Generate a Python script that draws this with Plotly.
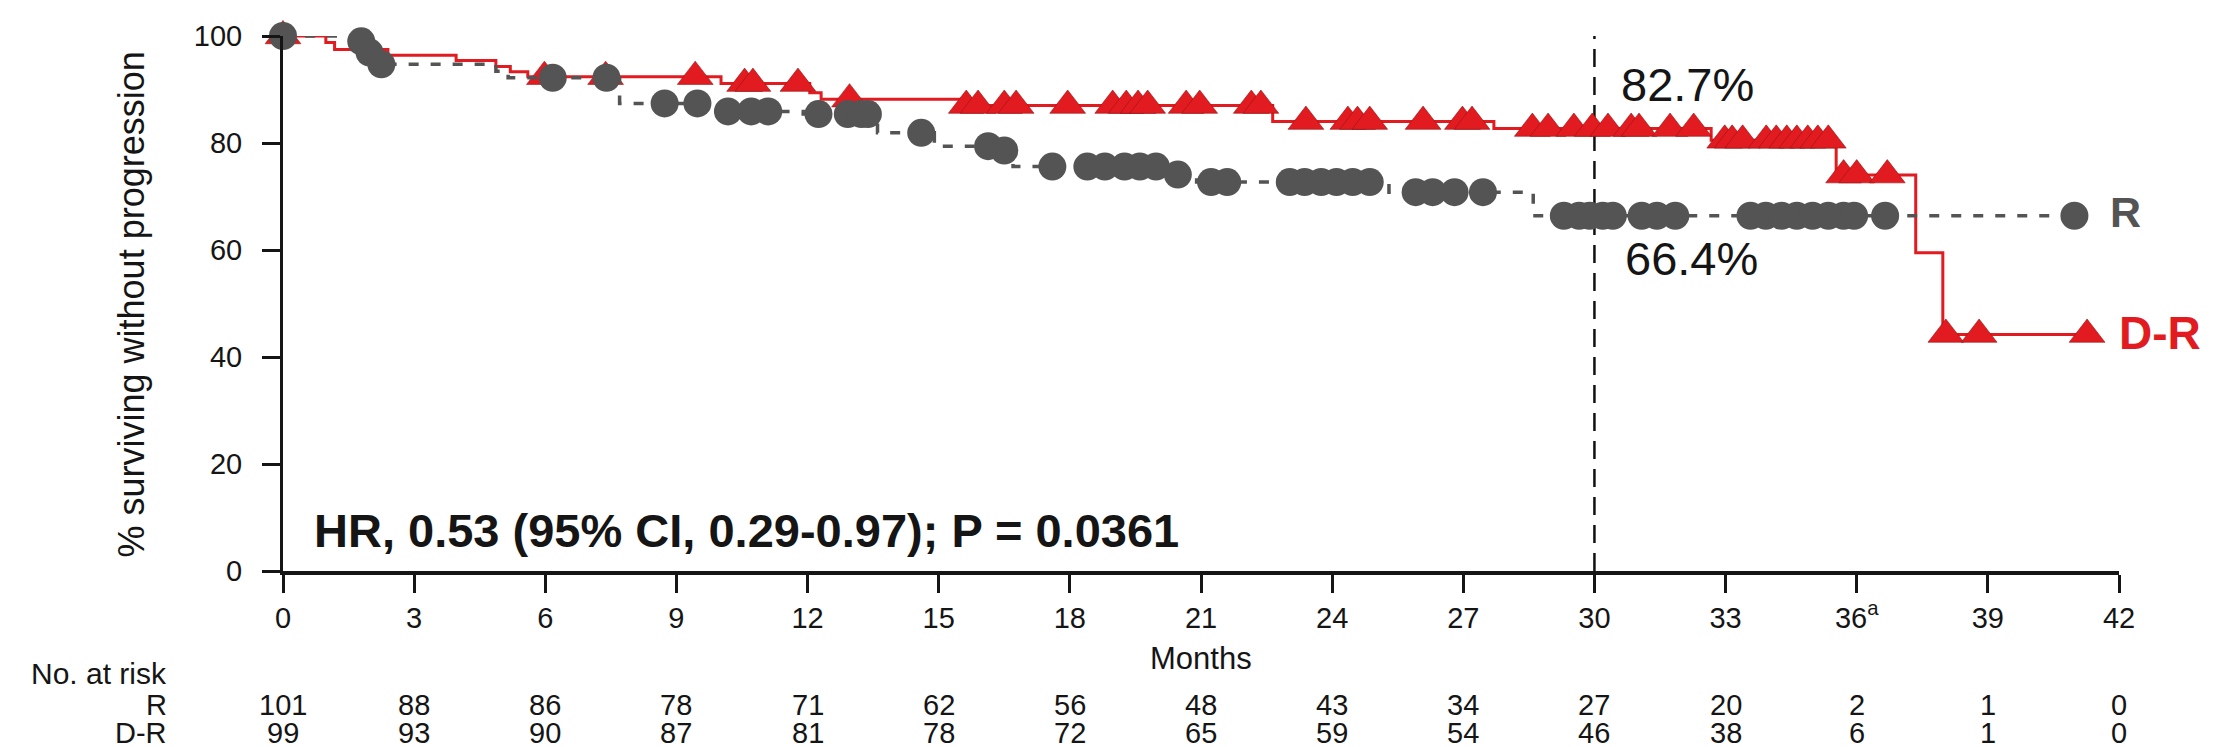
import plotly.graph_objects as go

# ---------------- data ----------------
months_ticks = [0, 3, 6, 9, 12, 15, 18, 21, 24, 27, 30, 33, 36, 39, 42]
month_tick_text = ["0", "3", "6", "9", "12", "15", "18", "21", "24", "27", "30", "33",
                   "36<sup>a</sup>", "39", "42"]
y_ticks = [0, 20, 40, 60, 80, 100]

# R arm (gray) Kaplan-Meier steps
r_step_t = [0, 1.7, 1.95, 2.2, 4.87, 5.15, 7.7, 9.9, 11.9, 13.6, 14.9, 16.3, 16.7, 20.3,
            20.9, 25.3, 28.6, 41.0]
r_step_s = [100, 99.0, 96.9, 94.7, 93.4, 92.2, 87.4, 85.9, 85.4, 81.9, 79.4, 78.6, 75.6,
            74.1, 72.7, 70.8, 66.4, 66.4]
r_cens_t = [0, 1.79, 1.98, 2.25, 6.17, 7.4, 8.73, 9.48, 10.18, 10.71, 11.1, 12.25, 12.92,
            13.23, 13.38, 14.6, 16.13, 16.5, 17.6, 18.4, 18.8, 19.25, 19.6, 19.97,
            20.47, 21.23, 21.6, 23.03, 23.37, 23.75, 24.1, 24.47, 24.86, 25.91, 26.3,
            26.8, 27.45, 29.3, 29.65, 29.89, 30.19, 30.42, 31.08, 31.43, 31.85, 33.57,
            33.92, 34.28, 34.63, 34.99, 35.35, 35.7, 35.94, 36.65, 40.98]

# D-R arm (red) Kaplan-Meier steps
dr_step_t = [0, 0.98, 1.18, 2.4, 3.96, 4.87, 5.2, 5.6, 10.02, 12.05, 12.31, 15.5, 22.64,
             27.7, 32.67, 35.53, 37.35, 37.97, 41.27]
dr_step_s = [100, 98.8, 97.5, 96.4, 95.4, 94.3, 93.3, 92.4, 91.1, 89.4, 88.2, 87.0, 84.0,
             82.7, 80.5, 74.0, 59.5, 44.2, 44.2]
dr_cens_t = [0, 5.98, 7.38, 9.43, 10.56, 10.75, 11.78, 12.96, 15.63, 15.9, 16.5, 16.77,
             17.95, 18.98, 19.29, 19.56, 19.78, 20.66, 20.97, 22.15, 22.37, 23.4, 24.36,
             24.58, 24.86, 26.08, 26.98, 27.2, 28.58, 28.94, 29.53, 29.95, 30.31, 30.84,
             31.02, 31.73, 32.27, 32.98, 33.15, 33.39, 33.93, 34.16, 34.4, 34.63, 34.88,
             35.11, 35.35, 35.7, 36.0, 36.7, 38.04, 38.8, 41.27]

at_risk_R = [101, 88, 86, 78, 71, 62, 56, 48, 43, 34, 27, 20, 2, 1, 0]
at_risk_DR = [99, 93, 90, 87, 81, 78, 72, 65, 59, 54, 46, 38, 6, 1, 0]

landmark_month = 30
landmark_DR = "82.7%"
landmark_R = "66.4%"
hr_text = "HR, 0.53 (95% CI, 0.29-0.97); P = 0.0361"


def km_value(step_t, step_s, t):
    v = step_s[0]
    for tt, ss in zip(step_t, step_s):
        if tt <= t:
            v = ss
    return v


r_cens_s = [km_value(r_step_t, r_step_s, t) for t in r_cens_t]
dr_cens_s = [km_value(dr_step_t, dr_step_s, t) for t in dr_cens_t]

# ---------------- styling ----------------
RED = "rgb(226,27,32)"
GRAY = "rgb(84,84,84)"
INK = "#151515"
FONT = "Liberation Sans, Arial, sans-serif"

W, H = 2214, 747
ML, MR, MT, MB = 275, 103, 23, 184
plot_h = H - MT - MB
plot_w = W - ML - MR


def py(pixel_y):
    return (H - MB - pixel_y) / plot_h


def px(pixel_x):
    return (pixel_x - ML) / plot_w


fig = go.Figure()

fig.add_trace(go.Scatter(x=dr_step_t, y=dr_step_s, mode="lines", line_shape="hv",
                         line=dict(color=RED, width=3), cliponaxis=False,
                         showlegend=False, hoverinfo="skip"))
fig.add_trace(go.Scatter(x=dr_cens_t, y=dr_cens_s, mode="markers",
                         marker=dict(symbol="triangle-up", size=31, color=RED,
                                     line=dict(width=0.6, color="rgb(150,20,20)")),
                         cliponaxis=False, showlegend=False))
fig.add_trace(go.Scatter(x=r_step_t, y=r_step_s, mode="lines", line_shape="hv",
                         line=dict(color=GRAY, width=3.5, dash="10px,12px"),
                         cliponaxis=False, showlegend=False, hoverinfo="skip"))
fig.add_trace(go.Scatter(x=r_cens_t, y=r_cens_s, mode="markers",
                         marker=dict(symbol="circle", size=28, color=GRAY,
                                     line=dict(width=0)),
                         cliponaxis=False, showlegend=False))

# landmark vertical dashed line
fig.add_shape(type="line", x0=landmark_month, x1=landmark_month, y0=0, y1=100,
              xref="x", yref="y", line=dict(color="#111111", width=2.5, dash="18px,10px"),
              layer="below")

annotations = []
annotations.append(dict(x=32.14, y=91.0, xref="x", yref="y", text=landmark_DR,
                        showarrow=False, xanchor="center", yanchor="middle",
                        font=dict(family=FONT, size=47, color=INK)))
annotations.append(dict(x=32.21, y=58.5, xref="x", yref="y", text=landmark_R,
                        showarrow=False, xanchor="center", yanchor="middle",
                        font=dict(family=FONT, size=47, color=INK)))
annotations.append(dict(x=0.67, y=7.6, xref="x", yref="y", text="<b>" + hr_text + "</b>",
                        showarrow=False, xanchor="left", yanchor="middle",
                        font=dict(family=FONT, size=47, color=INK)))
annotations.append(dict(x=41.75, y=67.1, xref="x", yref="y", text="<b>R</b>",
                        showarrow=False, xanchor="left", yanchor="middle",
                        font=dict(family=FONT, size=43, color=GRAY)))
annotations.append(dict(x=41.95, y=44.4, xref="x", yref="y", text="<b>D-R</b>",
                        showarrow=False, xanchor="left", yanchor="middle",
                        font=dict(family=FONT, size=46, color=RED)))

# axis titles
annotations.append(dict(x=0.5, y=py(651), xref="paper", yref="paper", text="Months",
                        showarrow=False, xanchor="center", yanchor="middle",
                        font=dict(family=FONT, size=31, color=INK)))
annotations.append(dict(x=px(123), y=py(294), xref="paper", yref="paper",
                        text="% surviving without progression", textangle=-90,
                        showarrow=False, xanchor="center", yanchor="middle",
                        font=dict(family=FONT, size=36, color=INK)))

# at-risk table
tbl_font = dict(family=FONT, size=29, color=INK)
annotations.append(dict(x=px(161), y=py(666), xref="paper", yref="paper",
                        text="No. at risk", showarrow=False, xanchor="right",
                        yanchor="middle", font=dict(family=FONT, size=30, color=INK)))
annotations.append(dict(x=px(161), y=py(698), xref="paper", yref="paper", text="R",
                        showarrow=False, xanchor="right", yanchor="middle", font=tbl_font))
annotations.append(dict(x=px(161), y=py(727), xref="paper", yref="paper", text="D-R",
                        showarrow=False, xanchor="right", yanchor="middle", font=tbl_font))
for m, a, b in zip(months_ticks, at_risk_R, at_risk_DR):
    annotations.append(dict(x=m, y=py(698), xref="x", yref="paper", text=str(a),
                            showarrow=False, xanchor="center", yanchor="middle",
                            font=tbl_font))
    annotations.append(dict(x=m, y=py(727), xref="x", yref="paper", text=str(b),
                            showarrow=False, xanchor="center", yanchor="middle",
                            font=tbl_font))

fig.update_layout(
    width=W, height=H, autosize=False,
    margin=dict(l=ML, r=MR, t=MT, b=MB, pad=0),
    paper_bgcolor="white", plot_bgcolor="white",
    font=dict(family=FONT, size=29, color=INK),
    annotations=annotations,
    xaxis=dict(range=[0, 42], tickvals=months_ticks, ticktext=month_tick_text,
               showline=True, linecolor=INK, linewidth=3.5, ticks="outside",
               ticklen=18, tickwidth=2.5, tickcolor=INK, showgrid=False,
               zeroline=False, tickfont=dict(family=FONT, size=29, color=INK)),
    yaxis=dict(range=[0, 100], tickvals=y_ticks, showline=True, linecolor=INK,
               linewidth=3, ticks="outside", ticklen=18, tickwidth=2.5,
               tickcolor=INK, showgrid=False, zeroline=False, ticklabelstandoff=14,
               tickfont=dict(family=FONT, size=29, color=INK)),
)

fig.write_html("out.html")
